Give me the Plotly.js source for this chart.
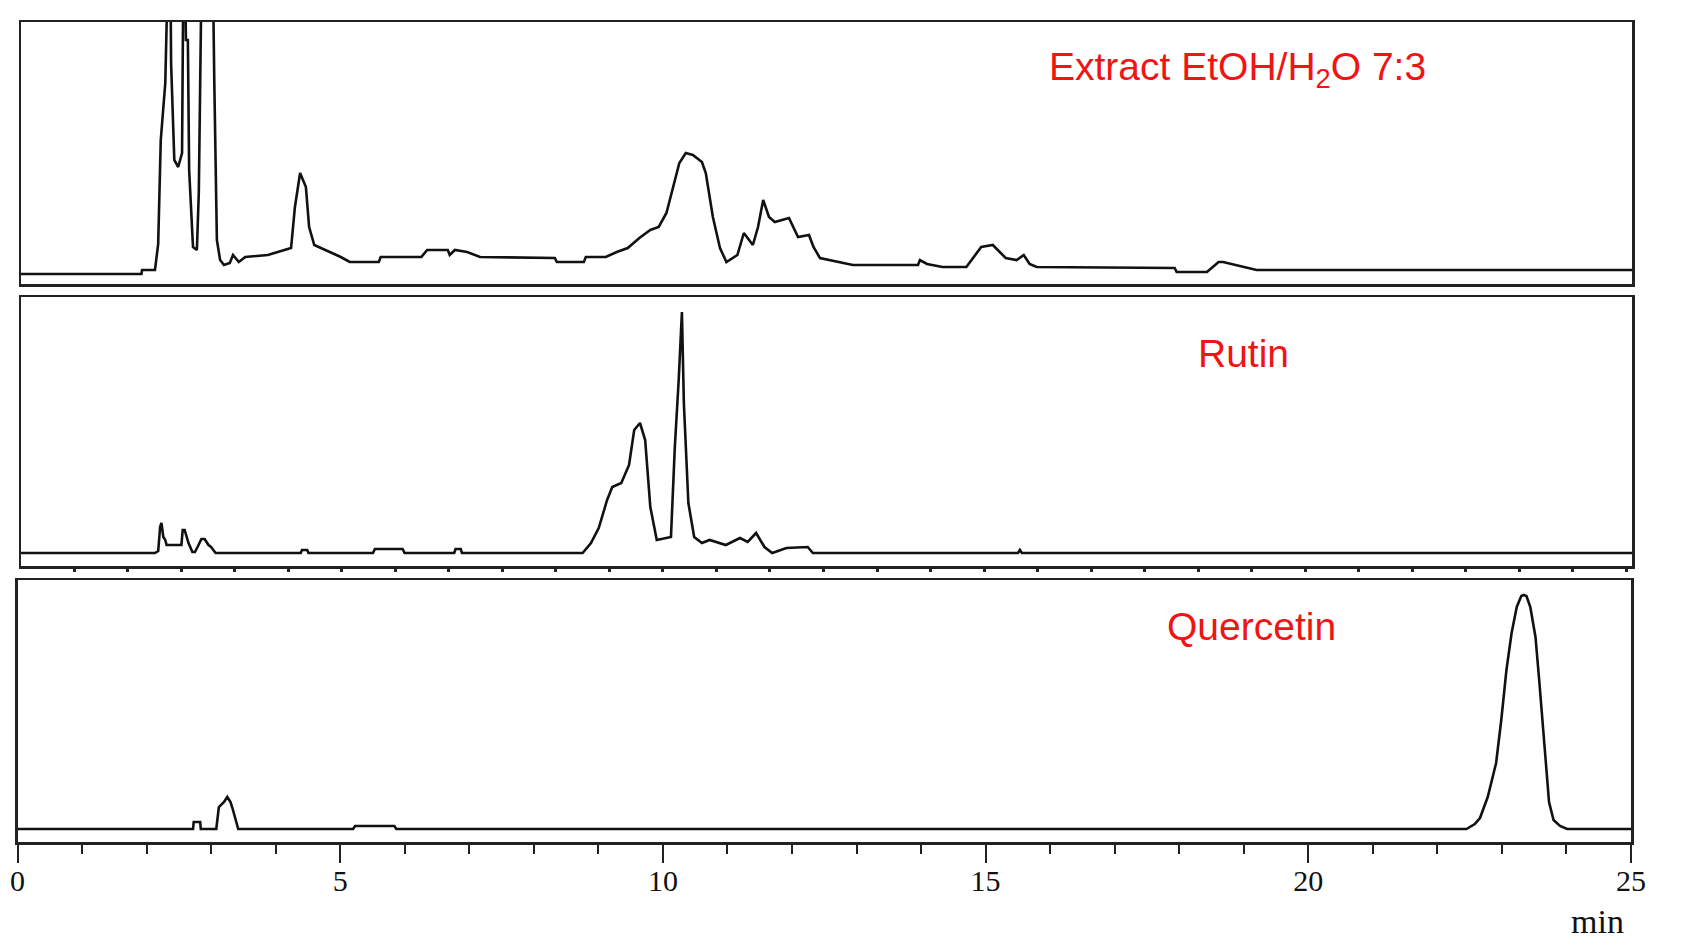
<!DOCTYPE html>
<html>
<head>
<meta charset="utf-8">
<script src="https://cdn.plot.ly/plotly-3.0.1.min.js"></script>
<style>html,body{margin:0;padding:0;background:#fff;}#chart{width:1683px;height:948px;}</style>
</head>
<body>
<div id="chart"></div>
<script>
// Retention time (min) and detector signal (arbitrary units)
const extractTime = [0.043,1.91,1.92,2.12,2.17,2.21,2.28,2.32,2.35,2.37,2.42,2.48,2.54,2.57,2.60,2.63,2.65,2.71,2.77,2.80,2.86,2.93,3.00,3.04,3.08,3.13,3.19,3.28,3.33,3.42,3.52,3.87,4.23,4.29,4.37,4.46,4.51,4.59,4.76,5.00,5.14,5.59,5.62,6.25,6.34,6.66,6.69,6.77,6.96,7.16,8.32,8.35,8.77,8.80,9.11,9.28,9.45,9.63,9.80,9.93,10.05,10.15,10.25,10.35,10.46,10.60,10.66,10.77,10.88,10.98,11.15,11.25,11.33,11.39,11.47,11.55,11.64,11.73,11.95,12.09,12.26,12.33,12.43,12.57,12.94,13.95,13.98,14.09,14.33,14.70,14.82,14.93,15.11,15.31,15.48,15.59,15.68,15.79,17.93,17.96,18.43,18.61,18.68,18.88,19.11,19.20,25.02];
const extractSignal = [10,10,14,14,40,144,201,400,400,221,124,117,131,400,244,244,114,37,34,92,400,500,400,202,44,24,19,21,29,22,27,29,36,77,111,97,57,39,34,27,22,22,27,27,34,34,29,34,32,27,26,22,22,27,27,32,36,46,54,57,71,97,121,131,129,122,111,67,36,22,29,51,44,39,57,84,67,62,66,47,49,37,26,24,19,19,24,20,17,17,27,37,39,26,24,29,20,17,16,12,12,22,22,19,16,14,14];

const rutinTime = [0.043,2.12,2.17,2.20,2.22,2.25,2.28,2.30,2.53,2.55,2.58,2.64,2.70,2.74,2.78,2.84,2.89,2.95,2.99,3.06,4.38,4.40,4.48,4.50,5.50,5.53,5.96,5.99,6.76,6.78,6.86,6.88,8.75,8.88,9.00,9.13,9.21,9.35,9.47,9.55,9.64,9.72,9.80,9.90,10.12,10.18,10.24,10.29,10.32,10.39,10.48,10.60,10.72,10.97,11.19,11.31,11.44,11.57,11.69,11.91,12.24,12.32,15.50,15.53,15.56,25.02];
const rutinSignal = [14,14,16,40,44,30,27,22,22,37,37,24,15,15,20,28,28,22,20,14,14,17,17,14,14,18,18,14,14,18,18,14,14,24,39,67,80,84,102,137,144,127,60,27,30,120,187,255,164,64,30,24,27,22,29,25,34,20,14,19,20,14,14,17,14,14];

const quercetinTime = [0,2.72,2.73,2.83,2.84,3.08,3.12,3.20,3.25,3.30,3.33,3.37,3.42,5.20,5.23,5.84,5.87,22.45,22.58,22.66,22.78,22.91,22.99,23.07,23.15,23.23,23.30,23.34,23.38,23.44,23.52,23.58,23.63,23.68,23.73,23.80,23.90,24.01,25];
const quercetinSignal = [13,13,20,20,13,13,35,40,45,40,34,24,13,13,16,16,13,13,18,24,45,79,122,172,209,235,246,247,246,235,205,160,115,80,40,22,16,13,13];

const sampleLabels = ['Extract EtOH/H<sub>2</sub>O 7:3', 'Rutin', 'Quercetin'];
const majorTicks = [0, 5, 10, 15, 20, 25];
const axisUnit = 'min';

const W = 1683, H = 948;
const fx = p => p / W;
const fy = p => 1 - p / H;

const lineStyle = {color: '#111', width: 2.6};
const traces = [
  {x: extractTime, y: extractSignal, xaxis: 'x', yaxis: 'y'},
  {x: rutinTime, y: rutinSignal, xaxis: 'x2', yaxis: 'y2'},
  {x: quercetinTime, y: quercetinSignal, xaxis: 'x3', yaxis: 'y3'}
].map(t => Object.assign(t, {type: 'scatter', mode: 'lines', line: lineStyle, showlegend: false, hoverinfo: 'skip'}));

const boxAxis = {
  showline: true, mirror: true, linecolor: '#222', linewidth: 2.5,
  showgrid: false, zeroline: false, showticklabels: false, ticks: '', fixedrange: true
};

const layout = {
  width: W, height: H,
  margin: {l: 0, r: 0, t: 0, b: 0},
  paper_bgcolor: '#fff', plot_bgcolor: '#fff',
  showlegend: false,
  xaxis: Object.assign({}, boxAxis, {anchor: 'y', domain: [fx(21), fx(1632)], range: [0.043, 25.02]}),
  yaxis: Object.assign({}, boxAxis, {anchor: 'x', domain: [fy(284), fy(22)], range: [0, 262]}),
  xaxis2: Object.assign({}, boxAxis, {anchor: 'y2', domain: [fx(21), fx(1632)], range: [0.043, 25.02],
    ticks: 'outside', ticklen: 3, tickwidth: 3, tickcolor: '#222', tickmode: 'linear', tick0: 0.865, dtick: 0.83}),
  yaxis2: Object.assign({}, boxAxis, {anchor: 'x2', domain: [fy(566), fy(297)], range: [1, 270]}),
  xaxis3: Object.assign({}, boxAxis, {anchor: 'y3', domain: [fx(17.5), fx(1631)], range: [0, 25],
    showticklabels: true, ticks: 'outside', ticklen: 18, tickwidth: 2, tickcolor: '#222',
    ticklabelstandoff: -8,
    tickmode: 'array', tickvals: majorTicks, ticktext: majorTicks.map(String),
    tickfont: {family: 'Liberation Serif, DejaVu Serif, serif', size: 30, color: '#111'},
    minor: {dtick: 1, tick0: 0, ticks: 'outside', ticklen: 9, tickwidth: 2, tickcolor: '#222', showgrid: false}}),
  yaxis3: Object.assign({}, boxAxis, {anchor: 'x3', domain: [fy(842), fy(580)], range: [0, 262]}),
  annotations: [
    {text: sampleLabels[0], x: fx(1237), y: fy(70)},
    {text: sampleLabels[1], x: fx(1243.5), y: fy(353)},
    {text: sampleLabels[2], x: fx(1251), y: fy(626)}
  ].map(a => Object.assign(a, {xref: 'paper', yref: 'paper', xanchor: 'center', yanchor: 'middle', showarrow: false,
      font: {family: 'Liberation Sans, Arial, sans-serif', size: 39, color: '#f01414'}}))
   .concat([{text: axisUnit, x: fx(1597), y: fy(921), xref: 'paper', yref: 'paper', xanchor: 'center', yanchor: 'middle',
      showarrow: false, font: {family: 'Liberation Serif, DejaVu Serif, serif', size: 34, color: '#111'}}])
};

Plotly.newPlot('chart', traces, layout, {staticPlot: true, displayModeBar: false});
</script>
</body>
</html>
